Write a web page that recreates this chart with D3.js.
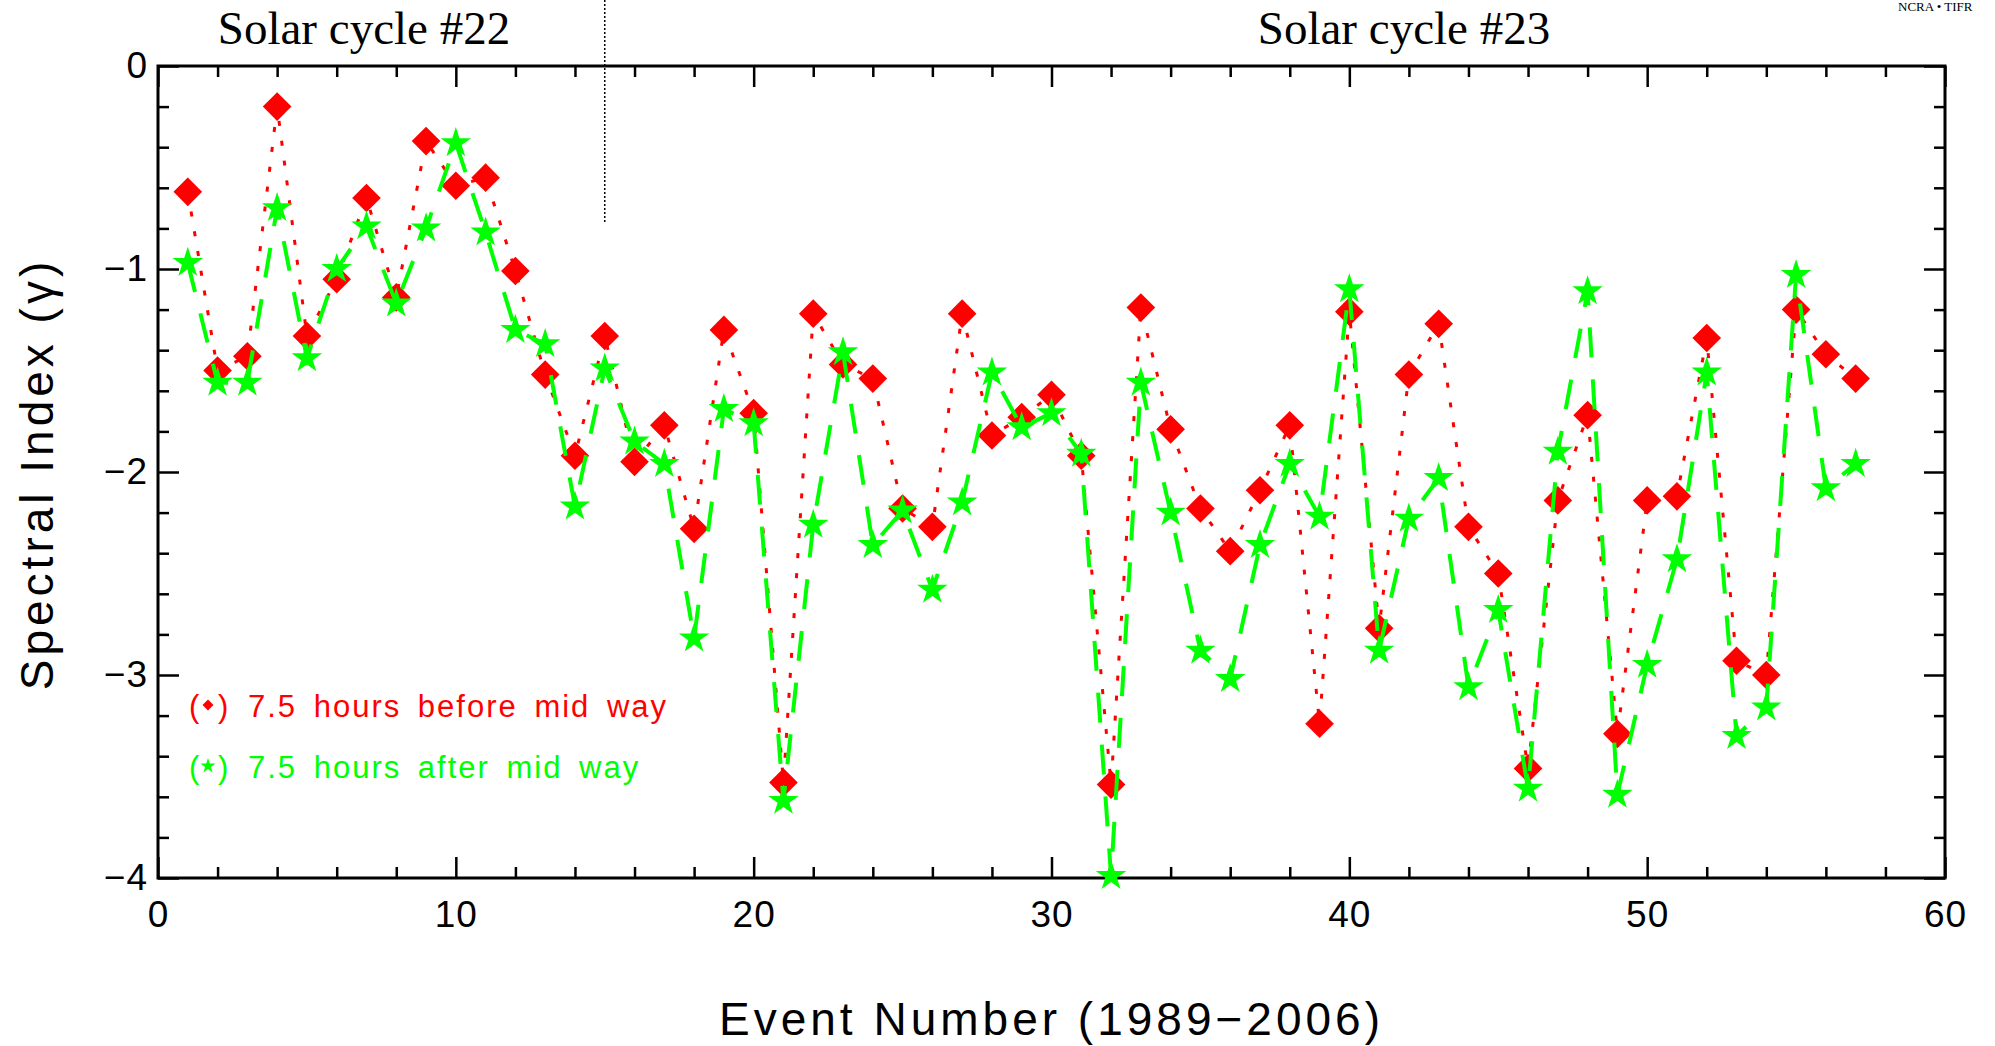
<!DOCTYPE html>
<html>
<head>
<meta charset="utf-8">
<script src="https://d3js.org/d3.v7.min.js"></script>
<style>
  body { margin: 0; background: #fff; }
  .axis text { font-family: "Liberation Sans", Arial, sans-serif; font-size: 37px; fill: #000; letter-spacing: 1px; }
  .axis line { stroke: #000; stroke-width: 2.5; }
  .axis path { display: none; }
</style>
</head>
<body>
<script>
// event numbers and spectral indices
const events = d3.range(1, 58);
const before = [-0.62, -1.50, -1.43, -0.20, -1.33, -1.05, -0.65, -1.14, -0.37, -0.59,
                -0.55, -1.01, -1.52, -1.92, -1.33, -1.95, -1.77, -2.28, -1.30, -1.71,
                -3.53, -1.22, -1.47, -1.54, -2.18, -2.27, -1.22, -1.82, -1.73, -1.62,
                -1.92, -3.54, -1.19, -1.79, -2.18, -2.39, -2.09, -1.77, -3.24, -1.21,
                -2.77, -1.52, -1.27, -2.27, -2.50, -3.46, -2.14, -1.72, -3.29, -2.14,
                -2.12, -1.34, -2.93, -3.00, -1.20, -1.42, -1.54];
const after = [-0.97, -1.56, -1.56, -0.70, -1.44, -1.00, -0.79, -1.17, -0.80, -0.38,
               -0.82, -1.30, -1.37, -2.17, -1.49, -1.85, -1.96, -2.82, -1.69, -1.76,
               -3.62, -2.26, -1.41, -2.36, -2.19, -2.58, -2.15, -1.51, -1.78, -1.71,
               -1.91, -3.99, -1.56, -2.20, -2.88, -3.02, -2.36, -1.96, -2.22, -1.10,
               -2.88, -2.23, -2.03, -3.06, -2.68, -3.56, -1.90, -1.11, -3.59, -2.95,
               -2.43, -1.51, -3.30, -3.16, -1.03, -2.08, -1.96];
const xTicks = [0, 10, 20, 30, 40, 50, 60];
const yTicks = [0, -1, -2, -3, -4];
const cycleNames = ['Solar cycle #22', 'Solar cycle #23'];
const cycleBreak = 15;
const legendNames = ['7.5 hours before mid way', '7.5 hours after mid way'];

const W = 1995, H = 1046;
const svg = d3.select('body').append('svg')
  .attr('width', W).attr('height', H)
  .style('display', 'block');

const x = d3.scaleLinear().domain([0, 60]).range([158, 1945]);
const y = d3.scaleLinear().domain([0, -4]).range([66, 878]);

const xMinor = d3.range(0, 61, 2).filter(v => v % 10 !== 0);
const yMinor = d3.range(1, 20).map(i => -i / 5).filter(v => Math.abs(v - Math.round(v)) > 1e-6);
const fmt = d3.format('d');

// bottom
svg.append('g').attr('class', 'axis').attr('transform', 'translate(0,878)')
  .call(d3.axisBottom(x).tickValues(xTicks).tickSize(-21).tickSizeOuter(0).tickPadding(23).tickFormat(fmt));
svg.append('g').attr('class', 'axis').attr('transform', 'translate(0,878)')
  .call(d3.axisBottom(x).tickValues(xMinor).tickSize(-11).tickSizeOuter(0).tickFormat(''));
// top
svg.append('g').attr('class', 'axis').attr('transform', 'translate(0,66)')
  .call(d3.axisTop(x).tickValues(xTicks).tickSize(-21).tickSizeOuter(0).tickFormat(''));
svg.append('g').attr('class', 'axis').attr('transform', 'translate(0,66)')
  .call(d3.axisTop(x).tickValues(xMinor).tickSize(-11).tickSizeOuter(0).tickFormat(''));
// left
svg.append('g').attr('class', 'axis').attr('transform', 'translate(158,0)')
  .call(d3.axisLeft(y).tickValues(yTicks).tickSize(-21).tickSizeOuter(0).tickPadding(10).tickFormat(fmt));
svg.append('g').attr('class', 'axis').attr('transform', 'translate(158,0)')
  .call(d3.axisLeft(y).tickValues(yMinor).tickSize(-11).tickSizeOuter(0).tickFormat(''));
// right
svg.append('g').attr('class', 'axis').attr('transform', 'translate(1945,0)')
  .call(d3.axisRight(y).tickValues(yTicks).tickSize(-21).tickSizeOuter(0).tickFormat(''));
svg.append('g').attr('class', 'axis').attr('transform', 'translate(1945,0)')
  .call(d3.axisRight(y).tickValues(yMinor).tickSize(-11).tickSizeOuter(0).tickFormat(''));

svg.append('rect')
  .attr('x', x(0)).attr('y', y(0))
  .attr('width', x(60) - x(0)).attr('height', y(-4) - y(0))
  .attr('fill', 'none').attr('stroke', '#000').attr('stroke-width', 3);

// cycle divider
svg.append('line')
  .attr('x1', x(cycleBreak)).attr('x2', x(cycleBreak))
  .attr('y1', 0).attr('y2', y(-0.77))
  .attr('stroke', '#000').attr('stroke-width', 1.5).attr('stroke-dasharray', '2 2');

svg.selectAll('.cycle').data(cycleNames).enter().append('text')
  .attr('class', 'cycle')
  .attr('x', (d, i) => i === 0 ? 364 : 1404)
  .attr('y', 44)
  .attr('text-anchor', 'middle')
  .style('font-family', '"Liberation Serif", "Times New Roman", serif')
  .style('font-size', '47px')
  .text(d => d);

svg.append('text')
  .attr('x', 1898).attr('y', 11)
  .style('font-family', '"Liberation Serif", serif')
  .style('font-size', '13px')
  .text('NCRA \u2022 TIFR');

const line = d3.line().x((d, i) => x(events[i])).y(d => y(d));

// before mid way (red)
svg.append('path').datum(before)
  .attr('d', line).attr('fill', 'none')
  .attr('stroke', '#ff0000').attr('stroke-width', 3).attr('stroke-dasharray', '5 15');
const diamond = d3.symbol(d3.symbolSquare, 410);
svg.selectAll('.dia').data(before).enter().append('path')
  .attr('class', 'dia')
  .attr('d', diamond)
  .attr('transform', (d, i) => `translate(${x(events[i])},${y(d)}) rotate(45)`)
  .attr('fill', '#ff0000');

// after mid way (green)
svg.append('path').datum(after)
  .attr('d', line).attr('fill', 'none')
  .attr('stroke', '#00ff00').attr('stroke-width', 4).attr('stroke-dasharray', '30 22');
const star = d3.symbol(d3.symbolStar, 290);
svg.selectAll('.star').data(after).enter().append('path')
  .attr('class', 'star')
  .attr('d', star)
  .attr('transform', (d, i) => `translate(${x(events[i])},${y(d)})`)
  .attr('fill', '#00ff00');

// axis titles
svg.append('text')
  .attr('x', (x(0) + x(60)) / 2).attr('y', 1035)
  .attr('text-anchor', 'middle')
  .style('font-family', '"Liberation Sans", Arial, sans-serif')
  .style('font-size', '46px').style('letter-spacing', '4px')
  .text('Event Number (1989\u22122006)');

svg.append('text')
  .attr('transform', 'translate(53,474) rotate(-90)')
  .attr('text-anchor', 'middle')
  .style('font-family', '"Liberation Sans", Arial, sans-serif')
  .style('font-size', '46px').style('letter-spacing', '4px')
  .text('Spectral Index (\u03b3)');

// legend
const legColors = ['#ff0000', '#00ff00'];
const legSym = [d3.symbol(d3.symbolSquare, 60), d3.symbol(d3.symbolStar, 70)];
const leg = svg.selectAll('.leg').data(legendNames).enter().append('g')
  .attr('class', 'leg')
  .attr('transform', (d, i) => `translate(0,${717 + i * 61})`)
  .style('font-family', '"Liberation Sans", Arial, sans-serif')
  .style('font-size', '31px');
leg.append('text').attr('x', 189).attr('y', 0).attr('fill', (d, i) => legColors[i]).text('(');
leg.append('text').attr('x', 218).attr('y', 0).attr('fill', (d, i) => legColors[i]).text(')');
leg.append('path')
  .attr('d', (d, i) => legSym[i]())
  .attr('transform', (d, i) => i === 0 ? 'translate(208,-12) rotate(45)' : 'translate(208,-12)')
  .attr('fill', (d, i) => legColors[i]);
leg.append('text').attr('x', 248).attr('y', 0)
  .attr('fill', (d, i) => legColors[i])
  .style('letter-spacing', '2px').style('word-spacing', '6px')
  .text(d => d);
</script>
</body>
</html>
